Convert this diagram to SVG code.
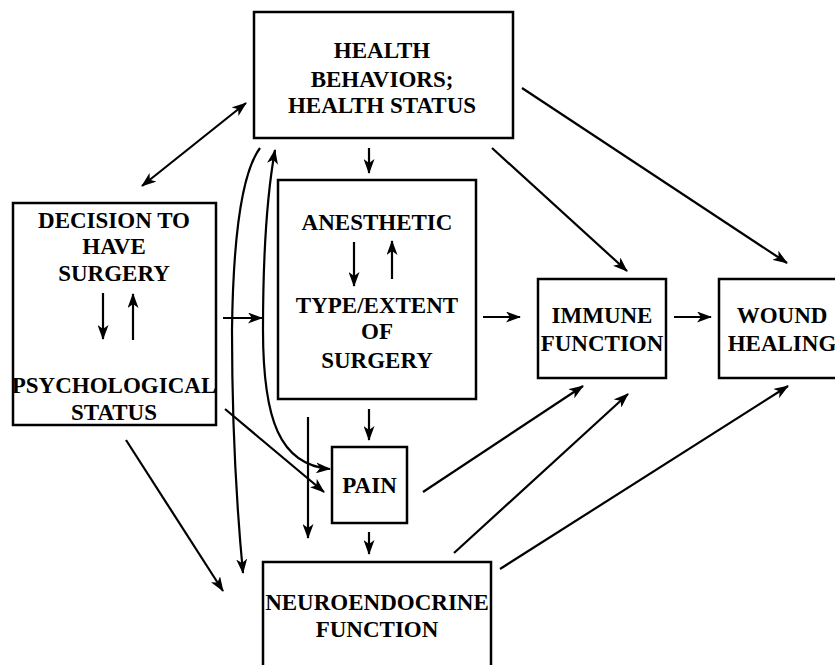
<svg xmlns="http://www.w3.org/2000/svg" width="835" height="665" viewBox="0 0 835 665">
<defs>
<style>
.box{fill:#fff;stroke:#000;stroke-width:2.5}
.t{font-family:"Liberation Serif","Times New Roman",serif;font-weight:bold;font-size:23px;text-anchor:middle;fill:#000}
.c{fill:none;stroke:#000;stroke-width:2.2}
</style>
<marker id="ah" viewBox="0 0 15 11" refX="14" refY="5.5" markerWidth="15" markerHeight="11" markerUnits="userSpaceOnUse" orient="auto-start-reverse">
<path d="M0,0 L15,5.5 L0,11 L4,5.5 z" fill="#000"/>
</marker>
</defs>
<rect width="835" height="665" fill="#fff"/>

<g id="health">
<rect class="box" x="254" y="12" width="259" height="126"/>
<text class="t" x="382" y="58">HEALTH</text>
<text class="t" x="382" y="87">BEHAVIORS;</text>
<text class="t" x="382" y="113">HEALTH STATUS</text>
</g>

<g id="decision">
<rect class="box" x="13" y="203" width="203" height="222"/>
<text class="t" x="114" y="228">DECISION TO</text>
<text class="t" x="114" y="254">HAVE</text>
<text class="t" x="114" y="281">SURGERY</text>
<line class="c" x1="103" y1="293" x2="103" y2="339" marker-end="url(#ah)"/>
<line class="c" x1="133" y1="340" x2="133" y2="294" marker-end="url(#ah)"/>
<text class="t" x="114" y="393">PSYCHOLOGICAL</text>
<text class="t" x="114" y="420">STATUS</text>
</g>

<g id="anesthetic">
<rect class="box" x="278" y="180" width="198" height="219"/>
<text class="t" x="377" y="230">ANESTHETIC</text>
<line class="c" x1="354" y1="242" x2="354" y2="286" marker-end="url(#ah)"/>
<line class="c" x1="392" y1="279" x2="392" y2="241" marker-end="url(#ah)"/>
<text class="t" x="377" y="313">TYPE/EXTENT</text>
<text class="t" x="377" y="339">OF</text>
<text class="t" x="377" y="368">SURGERY</text>
</g>

<g id="pain">
<rect class="box" x="332" y="447" width="75" height="76"/>
<text class="t" x="369.5" y="493">PAIN</text>
</g>

<g id="neuro">
<rect class="box" x="263" y="562" width="228" height="120"/>
<text class="t" x="377" y="610">NEUROENDOCRINE</text>
<text class="t" x="377" y="637">FUNCTION</text>
</g>

<g id="immune">
<rect class="box" x="538" y="279" width="128" height="99"/>
<text class="t" x="602" y="323">IMMUNE</text>
<text class="t" x="602" y="351">FUNCTION</text>
</g>

<g id="wound">
<rect class="box" x="719" y="279" width="130" height="99"/>
<text class="t" x="782" y="323">WOUND</text>
<text class="t" x="782" y="351">HEALING</text>
</g>

<g id="connectors">
<line class="c" x1="142" y1="186" x2="246" y2="103" marker-start="url(#ah)" marker-end="url(#ah)"/>
<line class="c" x1="369" y1="148" x2="369" y2="173" marker-end="url(#ah)"/>
<line class="c" x1="492" y1="148" x2="627" y2="271" marker-end="url(#ah)"/>
<line class="c" x1="522" y1="88" x2="787" y2="263" marker-end="url(#ah)"/>
<path class="c" d="M260,148 C240,175 233,250 232,330 C232,420 236,500 243,573" marker-end="url(#ah)"/>
<path class="c" d="M275,150 C266,200 263,260 263,330 C263,420 280,465 330,469" marker-start="url(#ah)" marker-end="url(#ah)"/>
<line class="c" x1="223" y1="318" x2="262" y2="318" marker-end="url(#ah)"/>
<line class="c" x1="483" y1="317" x2="520" y2="317" marker-end="url(#ah)"/>
<line class="c" x1="674" y1="317" x2="711" y2="317" marker-end="url(#ah)"/>
<line class="c" x1="369" y1="409" x2="369" y2="440" marker-end="url(#ah)"/>
<line class="c" x1="308" y1="417" x2="308" y2="538" marker-end="url(#ah)"/>
<line class="c" x1="225" y1="409" x2="324" y2="492" marker-end="url(#ah)"/>
<line class="c" x1="126" y1="440" x2="223" y2="591" marker-end="url(#ah)"/>
<line class="c" x1="369" y1="532" x2="369" y2="554" marker-end="url(#ah)"/>
<line class="c" x1="423" y1="492" x2="583" y2="386" marker-end="url(#ah)"/>
<line class="c" x1="454" y1="553" x2="628" y2="394" marker-end="url(#ah)"/>
<line class="c" x1="500" y1="569" x2="788" y2="386" marker-end="url(#ah)"/>
</g>
</svg>
